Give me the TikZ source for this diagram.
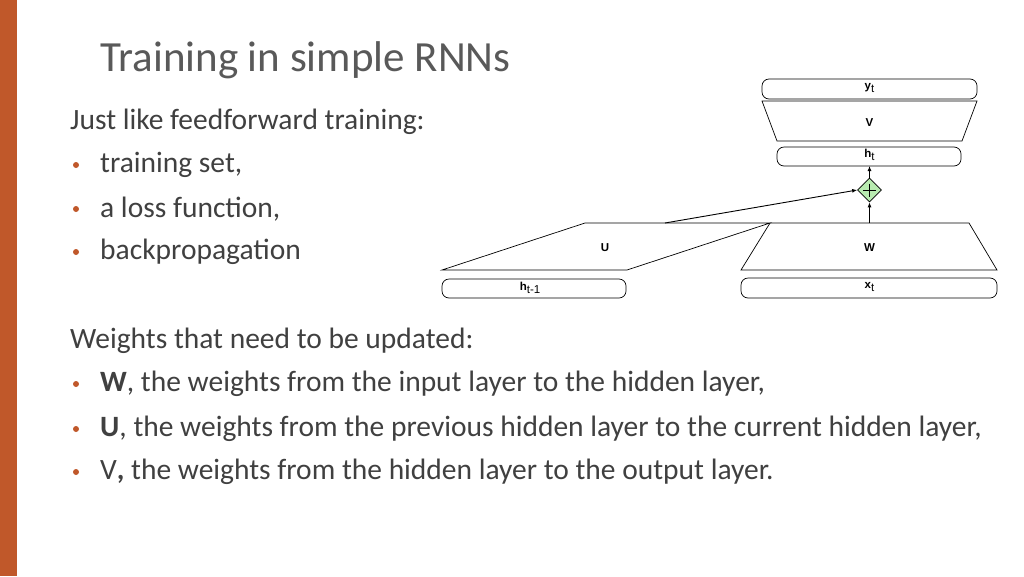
\documentclass[tikz,border=0pt]{standalone}
\usepackage{fontspec}
\setmainfont{Carlito}
\newfontfamily\lab{Liberation Sans}
\usetikzlibrary{shapes.geometric,arrows.meta}
\newcommand\mysub[1]{\raisebox{-3.5pt}{\mdseries #1}}
\definecolor{orng}{HTML}{C0582A}
\definecolor{titlegray}{HTML}{595959}
\definecolor{txt}{HTML}{404040}
\definecolor{grn}{HTML}{B8EBB0}
\begin{document}
\begin{tikzpicture}[x=1pt,y=-1pt,
  lay/.style={draw,rounded corners=7pt,line width=0.7pt},
  trap/.style={draw,line width=0.7pt},
  labl/.style={font=\lab\bfseries\fontsize{11.5}{11.5}\selectfont,inner sep=0},
  btxt/.style={anchor=west,font=\fontsize{29.5}{34}\selectfont,text=txt,inner sep=0},
  bul/.style={circle,fill=orng,inner sep=0,minimum size=6pt},
  arr/.style={-{Latex[length=5pt,width=4pt]},line width=0.9pt}]
\useasboundingbox (0,0) rectangle (1024,576);
\fill[white] (0,0) rectangle (1024,576);
\fill[orng] (0,0) rectangle (17,576);
\node[anchor=west,font=\fontsize{43}{48}\selectfont,text=titlegray,inner sep=0] (title) at (100,60) {Training in simple RNNs};
\node[btxt] (t1) at (70,122) {Just like feedforward training:};
\foreach \y/\t [count=\i] in {165/{training set,},209/{a loss function,},252/backpropagation}{
  \node[bul] (b\i) at (76,\y) {};
  \node[btxt] (bt\i) at (100,\y) {\t};}
\node[btxt] (t2) at (70,341) {Weights that need to be updated:};
\node[bul] (c1) at (76,384) {};
\node[btxt] (ct1) at (100,384) {\textbf{W}, the weights from the input layer to the hidden layer,};
\node[bul] (c2) at (76,429) {};
\node[btxt] (ct2) at (100,429) {\textbf{U}, the weights from the previous hidden layer to the current hidden layer,};
\node[bul] (c3) at (76,472) {};
\node[btxt] (ct3) at (100,472) {V\textbf{,} the weights from the hidden layer to the output layer.};
% diagram
\draw[lay] (762,79) rectangle (977,99);
\node[labl] (yt) at (869.5,88) {y\mysub{t}};
\draw[trap] (762,101) -- (977,101) -- (962,141) -- (777,141) -- cycle;
\node[labl] (V) at (869.5,123) {V};
\draw[lay] (777,147) rectangle (961,166);
\coordinate (htb) at (869.5,166);
\node[labl] (ht) at (869.5,155) {h\mysub{t}};
\node[draw,diamond,fill=grn,minimum size=24pt,inner sep=0,line width=0.7pt] (plus) at (869.5,190) {};
\draw[line width=0.9pt] (863,190) -- (876,190) (869.5,183.5) -- (869.5,196.5);
\draw[trap] (770,223) -- (969,223) -- (997,270) -- (741,270) -- cycle;
\coordinate (wt) at (869.5,223);
\node[labl] (W) at (869.5,248) {W};
\draw[lay] (741,278) rectangle (997,298);
\node[labl] (xt) at (869.5,287) {x\mysub{t}};
\draw[trap] (585,223) -- (770,223) -- (627,270) -- (442,270) -- cycle;
\coordinate (ut) at (665,223);
\node[labl] (U) at (605,248) {U};
\draw[lay] (442,279) rectangle (626,298);
\node[labl] (hp) at (530,288) {h\mysub{t-1}};
\draw[arr] (ut) -- (plus.west);
\draw[arr] (wt) -- (plus.south);
\draw[arr] (plus.north) -- (htb);
\end{tikzpicture}
\end{document}
